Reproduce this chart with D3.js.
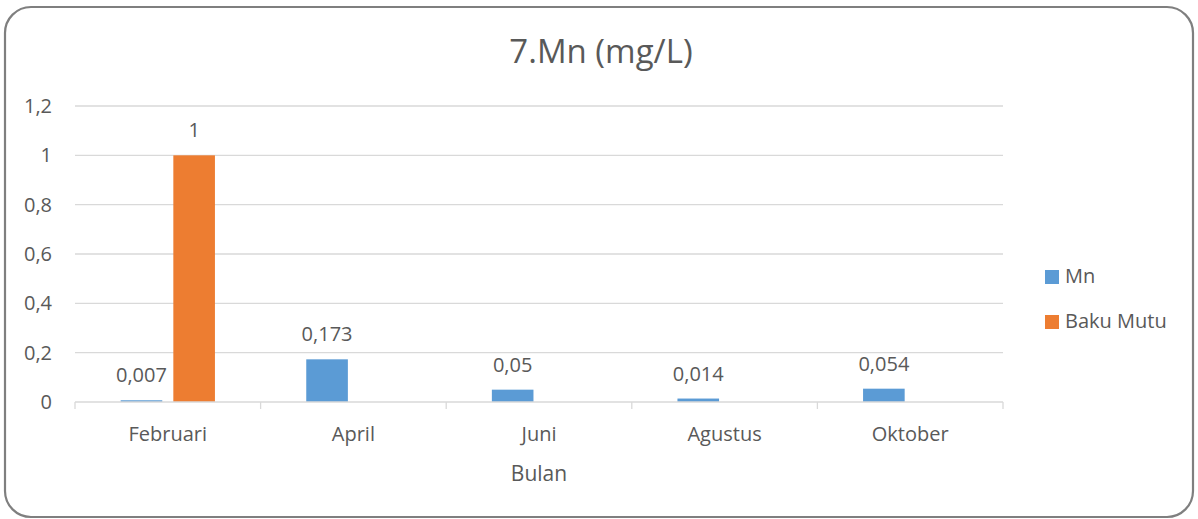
<!DOCTYPE html>
<html>
<head>
<meta charset="utf-8">
<script src="https://cdn.jsdelivr.net/npm/d3@7"></script>
<style>
  body { margin: 0; background: #fff; }
  text { font-family: "Open Sans", sans-serif; fill: #595959; }
</style>
</head>
<body>
<div id="chart"></div>
<script>
// data
const months = ["Februari", "April", "Juni", "Agustus", "Oktober"];
const seriesNames = ["Mn", "Baku Mutu"];
const mnValues = [0.007, 0.173, 0.05, 0.014, 0.054];
const bakuMutuValues = [1, null, null, null, null];
const yTicks = [0, 0.2, 0.4, 0.6, 0.8, 1, 1.2];
const colors = ["#5B9BD5", "#ED7D31"];

const W = 1198, H = 519;
const margin = { top: 106, right: 195, bottom: 117, left: 75 };

const svg = d3.select("#chart").append("svg")
    .attr("width", W)
    .attr("height", H);

// frame
svg.append("rect")
    .attr("x", 5).attr("y", 7)
    .attr("width", W - 10).attr("height", H - 9)
    .attr("rx", 26).attr("ry", 26)
    .attr("fill", "#fff")
    .attr("stroke", "#7f7f7f")
    .attr("stroke-width", 2.2);

const x = d3.scaleBand()
    .domain(months)
    .range([margin.left, W - margin.right]);

const xInner = d3.scaleBand()
    .domain(seriesNames)
    .range([x.bandwidth() * 0.246, x.bandwidth() * 0.754])
    .paddingInner(0.21);

const y = d3.scaleLinear()
    .domain([0, 1.2])
    .range([H - margin.bottom, margin.top]);

const fmt = v => String(v).replace(".", ",");

// gridlines
svg.append("g")
    .selectAll("line")
    .data(yTicks.filter(d => d > 0))
    .enter().append("line")
    .attr("x1", margin.left).attr("x2", W - margin.right)
    .attr("y1", d => y(d)).attr("y2", d => y(d))
    .attr("stroke", "#d9d9d9")
    .attr("stroke-width", 1.3);

// y axis labels
svg.append("g")
    .selectAll("text")
    .data(yTicks)
    .enter().append("text")
    .attr("x", 52)
    .attr("y", d => y(d))
    .attr("dy", "0.35em")
    .attr("text-anchor", "end")
    .attr("font-size", 20)
    .text(fmt);

// bars
const rows = months.map((m, i) => ({ month: m, values: [mnValues[i], bakuMutuValues[i]] }));

const groups = svg.append("g")
    .selectAll("g")
    .data(rows)
    .enter().append("g")
    .attr("transform", d => `translate(${x(d.month)},0)`);

groups.selectAll("rect")
    .data(d => d.values.map((v, j) => ({ name: seriesNames[j], value: v, j })).filter(e => e.value != null))
    .enter().append("rect")
    .attr("x", d => xInner(d.name))
    .attr("width", xInner.bandwidth())
    .attr("y", d => y(d.value))
    .attr("height", d => y(0) - y(d.value))
    .attr("fill", d => colors[d.j]);

groups.selectAll("text")
    .data(d => d.values.map((v, j) => ({ name: seriesNames[j], value: v })).filter(e => e.value != null))
    .enter().append("text")
    .attr("x", d => xInner(d.name) + xInner.bandwidth() / 2)
    .attr("y", d => y(d.value) - 18)
    .attr("text-anchor", "middle")
    .attr("font-size", 20)
    .text(d => fmt(d.value));

// x axis
const x0 = y(0);
svg.append("line")
    .attr("x1", margin.left).attr("x2", W - margin.right)
    .attr("y1", x0).attr("y2", x0)
    .attr("stroke", "#d9d9d9")
    .attr("stroke-width", 1.3);

const tickPos = months.map(m => x(m)).concat([W - margin.right]);
svg.append("g")
    .selectAll("line")
    .data(tickPos)
    .enter().append("line")
    .attr("x1", d => d).attr("x2", d => d)
    .attr("y1", x0).attr("y2", x0 + 7)
    .attr("stroke", "#d9d9d9")
    .attr("stroke-width", 1.3);

svg.append("g")
    .selectAll("text")
    .data(months)
    .enter().append("text")
    .attr("x", d => x(d) + x.bandwidth() / 2)
    .attr("y", 441)
    .attr("text-anchor", "middle")
    .attr("font-size", 20)
    .text(d => d);

// axis title
svg.append("text")
    .attr("x", (margin.left + W - margin.right) / 2)
    .attr("y", 481)
    .attr("text-anchor", "middle")
    .attr("font-size", 21)
    .text("Bulan");

// chart title
svg.append("text")
    .attr("x", 601)
    .attr("y", 63)
    .attr("text-anchor", "middle")
    .attr("font-size", 33)
    .text("7.Mn (mg/L)");

// legend
const legend = svg.append("g")
    .selectAll("g")
    .data(seriesNames)
    .enter().append("g")
    .attr("transform", (d, i) => `translate(1045,${270 + i * 45})`);

legend.append("rect")
    .attr("width", 14).attr("height", 14)
    .attr("fill", (d, i) => colors[i]);

legend.append("text")
    .attr("x", 20)
    .attr("y", 13)
    .attr("font-size", 20)
    .text(d => d);
</script>
</body>
</html>
